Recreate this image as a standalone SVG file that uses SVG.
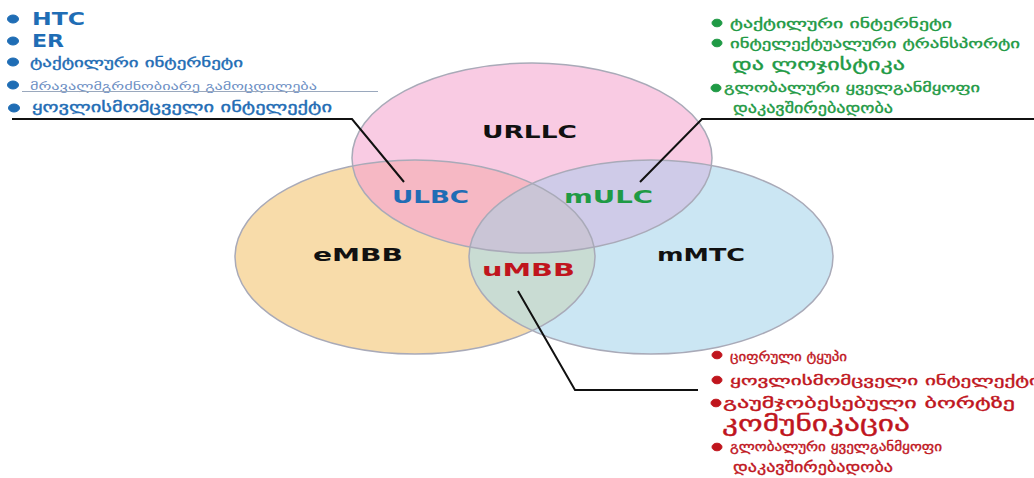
<svg xmlns="http://www.w3.org/2000/svg" width="1034" height="478" viewBox="0 0 1034 478">
<style>
.lbl{font-family:"DejaVu Sans","Liberation Sans",sans-serif;font-weight:bold;font-size:18px}
.geo{font-family:"DejaVu Sans","Noto Sans",sans-serif;stroke-width:0.35}
.blue{fill:#1f6db5;stroke:#1f6db5}
.green{fill:#1f9a45;stroke:#1f9a45}
.red{fill:#c0151d;stroke:#c0151d}
.lbl.blue,.lbl.green,.lbl.red{stroke:none}
.edge{fill:none;stroke:#a9aab8;stroke-width:1.5}
.conn{fill:none;stroke:#111;stroke-width:2}
</style>
<defs>
<clipPath id="cU"><ellipse cx="532" cy="158" rx="180" ry="95"/></clipPath>
<clipPath id="cE"><ellipse cx="415" cy="257" rx="180" ry="97"/></clipPath>
</defs>
<rect width="1034" height="478" fill="#ffffff"/>
<g id="fills">
<ellipse cx="415" cy="257" rx="180" ry="97" fill="#f8dcaa"/>
<ellipse cx="651" cy="257" rx="182" ry="97" fill="#cbe6f3"/>
<ellipse cx="532" cy="158" rx="180" ry="95" fill="#f9cbe3"/>
<ellipse cx="415" cy="257" rx="180" ry="97" fill="#f6b8c4" clip-path="url(#cU)"/>
<ellipse cx="651" cy="257" rx="182" ry="97" fill="#cfcbe8" clip-path="url(#cU)"/>
<ellipse cx="651" cy="257" rx="182" ry="97" fill="#c9dcd3" clip-path="url(#cE)"/>
<g clip-path="url(#cU)"><ellipse cx="651" cy="257" rx="182" ry="97" fill="#cac5d6" clip-path="url(#cE)"/></g>
</g>
<g id="node-urllc">
<ellipse class="edge" cx="532" cy="158" rx="180" ry="95"/>
<text class="lbl" x="482" y="138" textLength="95" lengthAdjust="spacingAndGlyphs" fill="#111">URLLC</text>
</g>
<g id="node-embb">
<ellipse class="edge" cx="415" cy="257" rx="180" ry="97"/>
<text class="lbl" x="313" y="261" textLength="90" lengthAdjust="spacingAndGlyphs" fill="#111">eMBB</text>
</g>
<g id="node-mmtc">
<ellipse class="edge" cx="651" cy="257" rx="182" ry="97"/>
<text class="lbl" x="657" y="261" textLength="88" lengthAdjust="spacingAndGlyphs" fill="#111">mMTC</text>
</g>
<g id="node-ulbc">
<text class="lbl blue" x="392" y="203" textLength="77" lengthAdjust="spacingAndGlyphs">ULBC</text>
</g>
<g id="node-mulc">
<text class="lbl green" x="564" y="203" textLength="89" lengthAdjust="spacingAndGlyphs">mULC</text>
</g>
<g id="node-umbb">
<text class="lbl red" x="482" y="276" textLength="93" lengthAdjust="spacingAndGlyphs">uMBB</text>
</g>
<g id="connectors">
<polyline class="conn" points="12,119 352,119 404,182"/>
<polyline class="conn" points="1034,119 702,119 640,182"/>
<polyline class="conn" points="518,291 575,390 698,390"/>
</g>
<g id="list-ulbc">
<ellipse class="blue" cx="13" cy="19" rx="5.5" ry="4"/>
<ellipse class="blue" cx="13" cy="41" rx="5.5" ry="4"/>
<ellipse class="blue" cx="13" cy="62" rx="5.5" ry="4"/>
<ellipse class="blue" cx="13" cy="85" rx="5.5" ry="4"/>
<ellipse class="blue" cx="14" cy="108" rx="5.5" ry="4"/>
<text class="lbl blue" x="32" y="25" font-size="17" textLength="53" lengthAdjust="spacingAndGlyphs">HTC</text>
<text class="lbl blue" x="32" y="47" font-size="17" textLength="32" lengthAdjust="spacingAndGlyphs">ER</text>
<text class="geo blue" x="30" y="67" font-size="13" textLength="213" lengthAdjust="spacingAndGlyphs">ტაქტილური ინტერნეტი</text>
<text class="geo" x="30" y="90" font-size="10" fill="#6d8fc4" textLength="287" lengthAdjust="spacingAndGlyphs">მრავალმგრძნობიარე გამოცდილება</text>
<line x1="22" y1="91.5" x2="378" y2="91.5" stroke="#9aa8bd" stroke-width="1"/>
<text class="geo blue" x="32" y="112" font-size="14" textLength="300" lengthAdjust="spacingAndGlyphs">ყოვლისმომცველი ინტელექტი</text>
</g>
<g id="list-mulc">
<ellipse class="green" cx="717" cy="23" rx="5" ry="3.8"/>
<ellipse class="green" cx="717" cy="43" rx="5" ry="3.8"/>
<ellipse class="green" cx="716" cy="88" rx="5" ry="3.8"/>
<text class="geo green" x="730" y="28" font-size="13" textLength="222" lengthAdjust="spacingAndGlyphs">ტაქტილური ინტერნეტი</text>
<text class="geo green" x="730" y="48" font-size="13" textLength="290" lengthAdjust="spacingAndGlyphs">ინტელექტუალური ტრანსპორტი</text>
<text class="geo green" x="732" y="70" font-size="16" textLength="173" lengthAdjust="spacingAndGlyphs">და ლოჯისტიკა</text>
<text class="geo green" x="724" y="92" font-size="12" textLength="256" lengthAdjust="spacingAndGlyphs">გლობალური ყველგანმყოფი</text>
<text class="geo green" x="733" y="113" font-size="15" textLength="160" lengthAdjust="spacingAndGlyphs">დაკავშირებადობა</text>
</g>
<g id="list-umbb">
<ellipse class="red" cx="717" cy="355" rx="5" ry="3.8"/>
<ellipse class="red" cx="717" cy="380" rx="5" ry="3.8"/>
<ellipse class="red" cx="716" cy="403" rx="5" ry="3.8"/>
<ellipse class="red" cx="717" cy="447" rx="5" ry="3.8"/>
<text class="geo red" x="730" y="361" font-size="13" textLength="117" lengthAdjust="spacingAndGlyphs">ციფრული ტყუპი</text>
<text class="geo red" x="730" y="385" font-size="13" textLength="310" lengthAdjust="spacingAndGlyphs">ყოვლისმომცველი ინტელექტი</text>
<text class="geo red" x="723" y="408" font-size="15" textLength="292" lengthAdjust="spacingAndGlyphs">გაუმჯობესებული ბორტზე</text>
<text class="geo red" x="722" y="431" font-size="21" textLength="188" lengthAdjust="spacingAndGlyphs">კომუნიკაცია</text>
<text class="geo red" x="730" y="451" font-size="12" textLength="212" lengthAdjust="spacingAndGlyphs">გლობალური ყველგანმყოფი</text>
<text class="geo red" x="733" y="472" font-size="15" textLength="160" lengthAdjust="spacingAndGlyphs">დაკავშირებადობა</text>
</g>
</svg>
